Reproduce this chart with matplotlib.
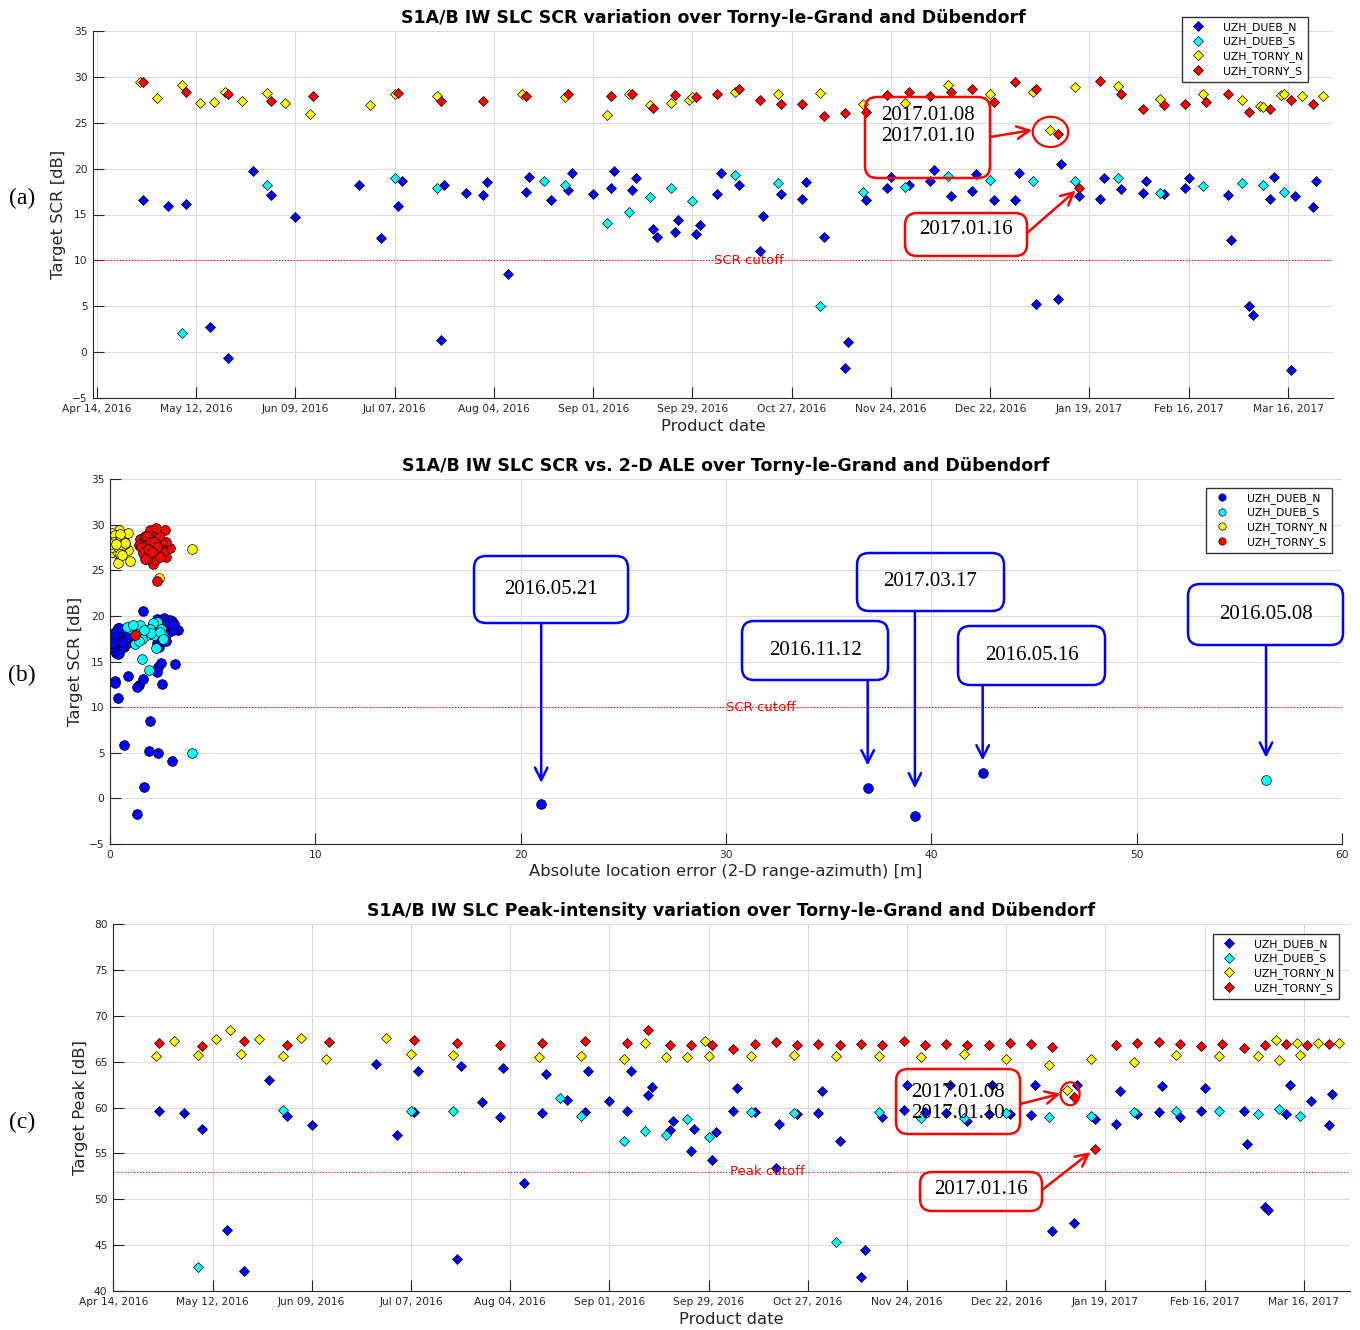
import datetime as dt
import numpy as np
import matplotlib
matplotlib.use("Agg")
import matplotlib.pyplot as plt
import matplotlib.dates as mdates
from matplotlib import patches

W, H = 1360, 1330
DPI = 100

# ---- data ----
# dates are MM-DD; Apr..Dec -> 2016, Jan..Mar -> 2017
dueb_n_dates = ["04-27", "05-04", "05-09", "05-16", "05-21", "05-28",
                "06-02", "06-09", "06-27",
                "07-03", "07-08", "07-09", "07-20", "07-21", "07-27",
                "08-01", "08-02", "08-08", "08-13", "08-14", "08-20", "08-25", "08-26",
                "09-01", "09-06", "09-07", "09-12", "09-13", "09-18", "09-19", "09-24", "09-25", "09-30",
                "10-01", "10-06", "10-07", "10-12", "10-18", "10-19", "10-24", "10-30", "10-31",
                "11-05", "11-11", "11-12", "11-17", "11-23", "11-24", "11-29",
                "12-05", "12-06", "12-11", "12-17", "12-18", "12-23", "12-29", "12-30",
                "01-04", "01-10", "01-11", "01-16", "01-22", "01-23", "01-28",
                "02-03", "02-04", "02-09", "02-15", "02-16", "02-27", "02-28",
                "03-05", "03-06", "03-11", "03-12", "03-17", "03-18", "03-23", "03-24"]
dueb_n_scr = [16.6, 15.9, 16.1, 2.75, -0.6, 19.7,
              17.1, 14.7, 18.2,
              12.4, 15.9, 18.7, 1.3, 18.2, 17.3,
              17.1, 18.5, 8.5, 17.4, 19.1, 16.6, 17.7, 19.5,
              17.2, 17.9, 19.7, 17.7, 19.0, 13.4, 12.5, 13.1, 14.4, 12.9,
              13.9, 17.2, 19.5, 18.2, 11.0, 14.8, 17.2, 16.7, 18.5,
              12.6, -1.7, 1.1, 16.6, 17.9, 19.1, 18.2,
              18.7, 19.8, 17.0, 17.6, 19.4, 16.6, 16.6, 19.5,
              5.2, 5.8, 20.5, 17.0, 16.7, 19.0, 17.8,
              17.3, 18.7, 17.2, 17.9, 19.0, 17.1, 12.2,
              5.0, 4.1, 16.7, 19.1, -1.9, 17.0, 15.8, 18.6]
dueb_n_peak = [59.6, 59.4, 57.7, 46.6, 42.2, 63.0,
               59.1, 58.1, 64.7,
               57.0, 59.5, 64.0, 43.5, 64.5, 60.6,
               59.0, 64.3, 51.8, 59.4, 63.7, 60.8, 59.5, 64.0,
               60.7, 59.6, 64.0, 61.4, 62.2, 57.5, 58.5, 55.3, 57.7, 54.3,
               57.3, 59.6, 62.1, 59.5, 53.4, 58.2, 59.3, 59.4, 61.8,
               56.3, 41.5, 44.5, 59.0, 59.7, 62.5, 59.5,
               59.4, 62.4, 58.5, 59.3, 62.4, 59.3, 59.2, 62.5,
               46.5, 47.4, 62.4, 58.7, 58.2, 61.8, 59.3,
               59.5, 62.3, 59.0, 59.6, 62.1, 59.6, 56.0,
               49.2, 48.8, 59.3, 62.5, np.nan, 60.7, 58.1, 61.5]
dueb_n_ale = [0.35, 0.45, 0.25, 42.5, 21.0, 2.30,
              0.60, 3.15, 0.75,
              1.43, 0.30, 0.40, 1.66, 2.85, 0.15,
              0.95, 3.30, 1.93, 0.50, 2.10, 0.70, 0.20, 2.75,
              1.05, 0.55, 2.60, 0.10, 2.95, 0.86, 2.52, 1.62, 2.35, 0.22,
              2.27, 0.85, 2.45, 0.25, 0.41, 2.48, 0.65, 0.05, 3.05,
              0.24, 1.30, 36.9, 2.40, 0.35, 2.20, 0.55,
              0.45, 2.65, 2.30, 0.80, 3.00, 0.15, 0.50, 2.90,
              1.89, 0.70, 1.62, 0.30, 0.65, 2.55, 0.90,
              2.75, 2.20, 0.40, 0.20, 2.80, 0.60, 1.30,
              2.34, 3.02, 2.35, 3.10, 39.2, 0.10, 0.40, 2.60]

dueb_s_dates = ["05-08", "06-01", "07-07", "07-19", "08-18", "08-24", "09-05", "09-11",
                "09-17", "09-23", "09-29", "10-11", "10-23", "11-04", "11-16", "11-28",
                "12-10", "12-22", "01-03", "01-15", "01-27", "02-08", "02-20", "03-03",
                "03-09", "03-15"]
dueb_s_scr = [2.05, 18.2, 19.0, 17.9, 18.6, 18.2, 14.1, 15.3, 16.9, 17.9, 16.5, 19.3, 18.4,
              5.0, 17.5, 18.0, 19.2, 18.8, 18.6, 18.6, 19.0, 17.3, 18.1, 18.4, 18.2, 17.5]
dueb_s_peak = [42.6, 59.7, 59.6, 59.6, 61.0, 59.1, 56.4, 57.4, 57.0, 58.7, 56.8, 59.5, 59.4,
               45.3, 59.5, 58.9, 58.9, 59.4, 59.0, 59.1, 59.5, 59.6, 59.6, 59.3, 59.8, 59.1]
dueb_s_ale = [56.3, 1.30, 1.45, 1.80, 1.00, 2.35, 1.89, 1.58, 1.20, 2.15, 2.25, 2.30, 1.75,
              3.97, 1.55, 2.55, 2.10, 0.85, 2.50, 1.95, 1.10, 1.40, 2.00, 1.65, 2.45, 2.60]

torny_n_dates = ["04-26", "05-01", "05-08", "05-13", "05-17", "05-20", "05-25", "06-01",
                 "06-06", "06-13", "06-30", "07-07", "07-19", "08-12", "08-24", "09-05",
                 "09-11", "09-17", "09-23", "09-28", "09-29", "10-11", "10-23", "11-04",
                 "11-16", "11-28", "12-10", "12-22", "01-03", "01-08", "01-15", "01-27",
                 "02-08", "02-20", "03-03", "03-08", "03-09", "03-14", "03-15", "03-20", "03-26"]
torny_n_scr = [29.4, 27.7, 29.1, 27.2, 27.3, 28.3, 27.4, 28.2, 27.1, 26.0, 26.9, 28.1, 27.9,
               28.1, 27.8, 25.8, 28.1, 26.9, 27.2, 27.5, 27.8, 28.4, 28.1, 28.2, 27.0, 27.1,
               29.1, 28.1, 28.4, 24.2, 28.9, 29.0, 27.6, 28.1, 27.5, 26.8, 26.7, 28.0, 28.1,
               27.9, 27.9]
torny_n_peak = [65.6, 67.2, 65.7, 67.5, 68.5, 65.8, 67.5, 65.6, 67.6, 65.3, 67.6, 65.8, 65.7,
                65.5, 65.6, 65.3, 67.0, 65.5, 65.5, 67.2, 65.6, 65.6, 65.7, 65.6, 65.6, 65.5,
                65.8, 65.3, 64.6, 61.9, 65.3, 65.0, 65.7, 65.6, 65.6, 67.4, 65.2, 67.0, 65.7,
                67.0, 67.0]
torny_n_ale = [0.44, 0.16, 0.11, 0.89, 4.00, 0.33, 0.20, 0.60, 0.25, 0.97, 0.30, 0.57, 0.73,
               0.05, 0.45, 0.40, 0.20, 0.55, 0.05, 0.15, 0.62, 0.25, 0.48, 0.70, 0.12, 0.35,
               0.86, 0.36, 0.50, 2.40, 0.24, 0.49, 0.10, 0.30, 0.40, 0.50, 0.58, 0.73, 0.15,
               0.06, 0.30]

torny_s_dates = ["04-27", "05-09", "05-21", "06-02", "06-14", "07-08", "07-20", "08-01",
                 "08-13", "08-25", "09-06", "09-12", "09-18", "09-24", "09-30", "10-06",
                 "10-12", "10-18", "10-24", "10-30", "11-05", "11-11", "11-17", "11-23",
                 "11-29", "12-05", "12-11", "12-17", "12-23", "12-29", "01-04", "01-10",
                 "01-16", "01-22", "01-28", "02-03", "02-09", "02-15", "02-21", "02-27",
                 "03-05", "03-11", "03-17", "03-23"]
torny_s_scr = [29.4, 28.4, 28.1, 27.4, 27.9, 28.2, 27.4, 27.4, 27.9, 28.1, 27.9, 28.1, 26.6,
               28.0, 27.8, 28.1, 28.7, 27.5, 27.0, 27.0, 25.7, 26.1, 26.2, 28.0, 28.3, 27.9,
               28.4, 28.7, 27.3, 29.4, 28.7, 23.8, 17.9, 29.6, 28.1, 26.5, 26.9, 27.0, 27.3,
               28.1, 26.2, 26.5, 27.5, 27.0]
torny_s_peak = [67.0, 66.7, 67.2, 66.8, 67.1, 67.4, 67.0, 66.8, 67.0, 67.2, 67.0, 68.4, 66.8,
                66.8, 66.8, 66.4, 66.9, 67.1, 66.8, 66.9, 66.8, 66.9, 66.8, 67.2, 66.8, 66.9,
                66.8, 66.8, 67.0, 66.9, 66.6, 61.1, 55.5, 66.8, 67.0, 67.1, 66.9, 66.7, 66.9,
                66.5, 66.8, 66.9, 66.8, 66.9]
torny_s_ale = [2.67, 1.45, 1.60, 2.90, 2.00, 2.30, 1.75, 2.15, 1.55, 2.45, 2.60, 1.85, 1.90,
               2.10, 1.40, 2.75, 1.70, 1.50, 2.35, 1.65, 2.07, 2.20, 1.80, 2.55, 1.95, 2.25,
               2.05, 2.40, 2.50, 1.95, 1.80, 2.30, 1.22, 2.23, 2.00, 2.75, 1.60, 2.60, 1.85,
               2.15, 1.70, 2.45, 2.30, 2.05]

station_names = ["UZH_DUEB_N", "UZH_DUEB_S", "UZH_TORNY_N", "UZH_TORNY_S"]
station_colors = ["#0000ff", "#00ffff", "#ffff00", "#ff0000"]
scr_cutoff = 10
peak_cutoff = 53


def to_dates(mmdd):
    out = []
    for s in mmdd:
        m, d = int(s[:2]), int(s[3:])
        out.append(dt.datetime(2016 if m >= 4 else 2017, m, d))
    return out


stations = [
    (to_dates(dueb_n_dates), dueb_n_scr, dueb_n_peak, dueb_n_ale),
    (to_dates(dueb_s_dates), dueb_s_scr, dueb_s_peak, dueb_s_ale),
    (to_dates(torny_n_dates), torny_n_scr, torny_n_peak, torny_n_ale),
    (to_dates(torny_s_dates), torny_s_scr, torny_s_peak, torny_s_ale),
]


def pick(idx, date_str, col):
    """date and one column (1=scr, 2=peak, 3=ale) of one station sample"""
    dates = stations[idx][0]
    i = dates.index(dt.datetime.strptime(date_str, "%Y-%m-%d"))
    return dates[i], stations[idx][col][i]


# pixel (top-left origin) -> figure fraction
def fx(x):
    return x / W


def fy(y):
    return 1 - y / H


fig = plt.figure(figsize=(W / DPI, H / DPI), dpi=DPI)

axes_px = [(93, 31, 1333, 398), (110, 479, 1342, 844), (113, 924, 1350, 1291)]
axs = []
for (x0, y0, x1, y1) in axes_px:
    axs.append(fig.add_axes([fx(x0), fy(y1), fx(x1) - fx(x0), fy(y0) - fy(y1)]))

TICK_C = "#262626"


def style(ax):
    for s in ["top", "right"]:
        ax.spines[s].set_visible(False)
    for s in ["left", "bottom"]:
        ax.spines[s].set_color(TICK_C)
        ax.spines[s].set_linewidth(0.8)
    ax.tick_params(direction="in", length=8, width=0.8, color=TICK_C,
                   labelsize=7.7, labelcolor=TICK_C, pad=4)
    ax.grid(True, color="#dcdcdc", lw=0.8)
    ax.set_axisbelow(True)


title_kw = dict(fontsize=12.5, fontweight="bold", pad=6)
lab_kw = dict(fontsize=11.8, color=TICK_C)
leg_kw = dict(fontsize=7.8, frameon=True, fancybox=False, edgecolor="black",
              borderpad=0.45, handletextpad=1.3, labelspacing=0.35, borderaxespad=0,
              bbox_transform=fig.transFigure, loc="upper right")

date_ticks = [dt.datetime(2016, 4, 14) + dt.timedelta(days=28 * k) for k in range(13)]
MS_D = 4.8

# ---------- (a) SCR vs date ----------
ax = axs[0]
style(ax)
for (dates, scr, peak, ale), name, col in zip(stations, station_names, station_colors):
    ax.plot(dates, scr, "D", ms=MS_D, mfc=col, mec="black", mew=0.5, label=name)
ax.axhline(scr_cutoff, color="red", ls=":", lw=0.8)
ax.text(dt.datetime(2016, 10, 15), scr_cutoff, "SCR cutoff", color="red",
        fontsize=9.5, ha="center", va="center")
ax.set_xlim(dt.datetime(2016, 4, 12, 21), dt.datetime(2017, 3, 28, 17))
ax.set_ylim(-5, 35)
ax.set_yticks(range(-5, 36, 5))
ax.set_xticks(date_ticks)
ax.xaxis.set_major_formatter(mdates.DateFormatter("%b %d, %Y"))
ax.set_title("S1A/B IW SLC SCR variation over Torny-le-Grand and Dübendorf", **title_kw)
ax.set_xlabel("Product date", labelpad=4, **lab_kw)
ax.set_ylabel("Target SCR [dB]", labelpad=4, **lab_kw)
ax.legend(bbox_to_anchor=(fx(1308), fy(17)), **leg_kw)

# ---------- (b) SCR vs ALE ----------
ax = axs[1]
style(ax)
for (dates, scr, peak, ale), name, col in zip(stations, station_names, station_colors):
    ax.plot(ale, scr, "o", ms=7.0, mfc=col, mec="black", mew=0.5, label=name)
ax.axhline(scr_cutoff, color="red", ls=":", lw=0.8)
ax.text(31.7, scr_cutoff, "SCR cutoff", color="red", fontsize=9.5, ha="center", va="center")
ax.set_xlim(0, 60)
ax.set_ylim(-5, 35)
ax.set_yticks(range(-5, 36, 5))
ax.set_xticks(range(0, 61, 10))
ax.set_title("S1A/B IW SLC SCR vs. 2-D ALE over Torny-le-Grand and Dübendorf", **title_kw)
ax.set_xlabel("Absolute location error (2-D range-azimuth) [m]", labelpad=3, **lab_kw)
ax.set_ylabel("Target SCR [dB]", labelpad=4, **lab_kw)
ax.legend(bbox_to_anchor=(fx(1332), fy(488)), markerscale=0.75, **leg_kw)

# ---------- (c) Peak vs date ----------
ax = axs[2]
style(ax)
for (dates, scr, peak, ale), name, col in zip(stations, station_names, station_colors):
    ax.plot(dates, peak, "D", ms=MS_D, mfc=col, mec="black", mew=0.5, label=name)
ax.axhline(peak_cutoff, color="red", ls=":", lw=0.8)
ax.text(dt.datetime(2016, 10, 15, 12), peak_cutoff, "Peak cutoff", color="red",
        fontsize=9.5, ha="center", va="center")
ax.set_xlim(dt.datetime(2016, 4, 13, 22), dt.datetime(2017, 3, 29))
ax.set_ylim(40, 80)
ax.set_yticks(range(40, 81, 5))
ax.set_xticks(date_ticks)
ax.xaxis.set_major_formatter(mdates.DateFormatter("%b %d, %Y"))
ax.set_title("S1A/B IW SLC Peak-intensity variation over Torny-le-Grand and Dübendorf",
             **title_kw)
ax.set_xlabel("Product date", labelpad=4, **lab_kw)
ax.set_ylabel("Target Peak [dB]", labelpad=4, **lab_kw)
ax.legend(bbox_to_anchor=(fx(1339), fy(934)), **leg_kw)

# ---------- annotations ----------
SERIF = ["Liberation Serif", "DejaVu Serif"]


def box(x0, y0, x1, y1, color, text, ty=None):
    fig.add_artist(patches.FancyBboxPatch(
        (fx(x0), fy(y1)), fx(x1) - fx(x0), fy(y0) - fy(y1),
        boxstyle="round,pad=0,rounding_size=0.009", transform=fig.transFigure,
        fill=False, edgecolor=color, linewidth=1.8, zorder=20))
    fig.text(fx((x0 + x1) / 2), fy(ty if ty is not None else (y0 + y1) / 2), text,
             family=SERIF, fontsize=15, ha="center", va="center",
             linespacing=1.2, zorder=21)


def arrow(ax, xy, start, color, shrink=0, coords="figure fraction"):
    ax.annotate("", xy=xy, xycoords="data", xytext=start, textcoords=coords,
                arrowprops=dict(arrowstyle="->,head_length=0.9,head_width=0.45",
                                color=color, lw=1.8, shrinkA=0, shrinkB=shrink),
                annotation_clip=False, zorder=22)


# (a)
ax = axs[0]
d8, v8 = pick(2, "2017-01-08", 1)
d10, v10 = pick(3, "2017-01-10", 1)
cx = mdates.date2num(d8) + (mdates.date2num(d10) - mdates.date2num(d8)) / 2
cy = (v8 + v10) / 2
ax.add_patch(patches.Ellipse((cx - 1, cy), 10, 3.3, fill=False, edgecolor="red",
                             lw=1.6, clip_on=False, zorder=20))
box(865, 97, 990, 178, "red", "2017.01.08\n2017.01.10", ty=126)
arrow(ax, (cx - 6.2, cy + 0.2), (fx(990), fy(137)), "red")
d16, v16 = pick(3, "2017-01-16", 1)
box(905, 213, 1027, 256, "red", "2017.01.16", ty=230)
arrow(ax, (mdates.date2num(d16), v16), (fx(1027), fy(233)), "red", shrink=3)

# (b)
ax = axs[1]
b_notes = [
    ("2016.05.21", 0, "2016-05-21", (474, 556, 628, 623), 2.3),
    ("2016.11.12", 0, "2016-11-12", (742, 621, 888, 680), 2.5),
    ("2017.03.17", 0, "2017-03-17", (857, 553, 1004, 611), 3.0),
    ("2016.05.16", 0, "2016-05-16", (958, 626, 1105, 685), 1.4),
    ("2016.05.08", 1, "2016-05-08", (1188, 584, 1343, 645), 2.4),
]
for label, idx, ds, (x0, y0, x1, y1), gap in b_notes:
    _, a = pick(idx, ds, 3)
    _, s = pick(idx, ds, 1)
    box(x0, y0, x1, y1, "#0000ff", label)
    arrow(ax, (a, s + gap), (a, fy(y1)), "#0000ff", coords=("data", "figure fraction"))

# (c)
ax = axs[2]
d8, v8 = pick(2, "2017-01-08", 2)
d10, v10 = pick(3, "2017-01-10", 2)
cx = mdates.date2num(d8) + (mdates.date2num(d10) - mdates.date2num(d8)) / 2
cy = (v8 + v10) / 2
ax.add_patch(patches.Ellipse((cx, cy), 5.4, 2.5, fill=False, edgecolor="red",
                             lw=1.6, clip_on=False, zorder=20))
box(896, 1069, 1020, 1134, "red", "2017.01.08\n2017.01.10", ty=1103)
arrow(ax, (cx - 2.7, cy), (fx(1020), fy(1104)), "red")
d16, v16 = pick(3, "2017-01-16", 2)
box(920, 1172, 1042, 1211, "red", "2017.01.16", ty=1189)
arrow(ax, (mdates.date2num(d16), v16), (fx(1042), fy(1190)), "red", shrink=4)

# panel letters
for lab, y in [("(a)", 198), ("(b)", 675), ("(c)", 1122)]:
    fig.text(fx(22), fy(y), lab, family=SERIF, fontsize=17, ha="center", va="center")

fig.savefig("out.png", dpi=DPI, facecolor="white")
